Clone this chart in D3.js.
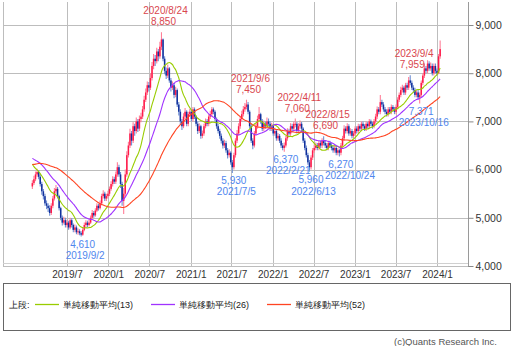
<!DOCTYPE html>
<html><head><meta charset="utf-8">
<script src="https://cdn.jsdelivr.net/npm/d3@7"></script>
<style>
html,body{margin:0;padding:0;background:#fff;}
svg{display:block;}
text{font-family:"Liberation Sans",Arial,sans-serif;}
</style></head>
<body>
<svg id="c" width="513" height="346"></svg>
<script>
// ---- DATA ----
const firstWeek = "2019-01-28";
// weekly closes (2019/1/28 ... 2024/1/8)
const closes = [
5720,5800,5900,5950,5850,5700,5550,5450,5300,5250,
5200,5100,5250,5400,5550,5600,5450,5200,5000,4900,
4950,4850,4900,4800,4950,4850,4750,4800,4700,4720,
4680,4650,4750,4850,4900,4850,4900,5000,5100,5050,
5150,5250,5200,5300,5450,5500,5400,5450,5500,5600,
5700,5800,5750,5900,6050,5900,5700,5350,5500,5900,
6300,6500,6750,6600,6900,6800,7000,6850,7050,7100,
7250,7450,7600,7750,7700,7900,8150,8300,8250,8450,
8350,8550,8700,8300,8050,7950,8100,7850,7700,7750,
7550,7650,7350,7200,7000,6900,7100,7200,6950,7150,
7200,7050,7250,7100,6950,6800,6900,6700,6750,6900,
7000,6950,7100,7150,7250,7200,7050,6900,6800,6700,
6600,6500,6550,6400,6300,6350,6150,6050,6300,6600,
6750,6900,7050,7150,7250,7300,7350,7200,6900,6600,
6500,6750,6900,7050,7150,7000,6850,6950,6900,7000,
6950,6850,6900,6750,6800,6650,6700,6600,6500,6450,
6500,6650,6800,6750,6900,6850,6950,6950,6800,6900,
6950,6850,6600,6450,6300,6150,6050,6250,6400,6450,
6500,6450,6550,6500,6600,6550,6500,6450,6550,6500,
6450,6400,6450,6350,6400,6350,6500,6650,6850,6800,
6900,6750,6800,6700,6750,6850,6800,6900,6850,6950,
6900,6850,6950,6900,7000,6950,6900,7000,7100,7250,
7200,7400,7350,7250,7200,7150,7250,7200,7300,7250,
7200,7300,7450,7550,7650,7700,7600,7750,7700,7850,
7800,7700,7650,7550,7600,7500,7550,7800,7950,8100,
8050,8200,8100,8150,8000,8150,8050,8000,8350,8500
];
const highs = [
5780,5870,5960,6020,5990,5900,5750,5600,5500,5360,
5300,5260,5300,5450,5620,5680,5640,5480,5230,5050,
5020,5000,4960,4940,5000,4990,4880,4860,4840,4780,
4760,4720,4790,4900,4950,4940,4960,5050,5160,5140,
5200,5300,5290,5360,5500,5570,5540,5500,5560,5650,
5760,5860,5850,5960,6150,6100,5950,5750,5620,6000,
6380,6580,6850,6800,6980,6950,7080,7050,7120,7180,
7320,7530,7680,7830,7820,8000,8230,8400,8380,8530,
8500,8650,8850,8720,8350,8120,8180,8130,7900,7830,
7800,7720,7680,7400,7250,7050,7170,7280,7230,7200,
7260,7240,7300,7290,7130,7000,6960,6930,6810,6950,
7060,7050,7150,7220,7300,7290,7230,7080,6950,6850,
6750,6650,6620,6600,6450,6420,6380,6200,6350,6650,
6820,6960,7100,7220,7320,7380,7450,7400,7230,6950,
6650,6800,6960,7120,7300,7180,7050,7020,7000,7080,
7060,7000,6970,6940,6870,6840,6760,6740,6650,6550,
6560,6700,6860,6850,6960,6950,7000,7060,6990,6960,
7020,6990,6880,6650,6500,6350,6200,6300,6450,6520,
6560,6550,6600,6600,6650,6690,6600,6550,6600,6600,
6550,6500,6500,6480,6450,6430,6550,6700,6920,6900,
6960,6940,6860,6840,6800,6900,6900,6950,6940,7000,
7000,6940,7000,6990,7050,7040,6990,7050,7160,7310,
7300,7550,7450,7400,7300,7250,7300,7300,7350,7340,
7300,7350,7500,7600,7720,7760,7740,7800,7800,7920,
7959,7850,7750,7700,7650,7650,7600,7850,8000,8200,
8150,8270,8250,8220,8200,8200,8200,8100,8400,8680
];
const lows = [
5600,5680,5760,5850,5800,5650,5480,5380,5250,5180,
5120,5040,5060,5200,5360,5500,5400,5150,4950,4840,
4860,4800,4800,4750,4760,4800,4700,4700,4660,4650,
4640,4610,4630,4720,4800,4800,4820,4870,4960,5000,
5020,5120,5150,5170,5260,5400,5350,5350,5400,5450,
5560,5650,5700,5700,5850,5850,5620,5250,5080,5450,
5850,6250,6450,6500,6550,6700,6750,6780,6800,6980,
7050,7200,7400,7550,7620,7650,7850,8080,8150,8200,
8250,8300,8480,8250,7980,7880,7900,7800,7620,7650,
7480,7500,7300,7120,6930,6820,6860,7050,6900,6900,
7100,7000,7000,7050,6900,6740,6760,6640,6650,6700,
6860,6900,6900,7050,7100,7150,7000,6850,6750,6640,
6540,6440,6450,6350,6230,6250,6100,5930,6000,6250,
6550,6700,6850,7000,7100,7200,7250,7150,6850,6550,
6420,6460,6700,6850,7000,6950,6800,6800,6850,6860,
6900,6800,6800,6700,6700,6600,6600,6550,6450,6400,
6370,6460,6600,6700,6700,6800,6800,6880,6750,6760,
6850,6800,6550,6400,6250,6100,5960,6000,6200,6350,
6400,6400,6400,6450,6450,6500,6450,6400,6400,6450,
6400,6350,6350,6300,6300,6270,6300,6450,6600,6750,
6750,6700,6700,6650,6650,6700,6750,6750,6800,6800,
6850,6800,6800,6850,6850,6900,6850,6860,6950,7050,
7150,7150,7300,7200,7150,7100,7100,7150,7150,7200,
7150,7150,7250,7400,7500,7600,7550,7550,7650,7650,
7750,7650,7600,7500,7500,7450,7371,7500,7750,7900,
8000,8000,8050,8050,7950,7950,8000,7950,7980,8300
];
const firstOpen = 5650;
// 2018 weekly closes preceding the chart (used only for the moving averages)
const priorCloses = [
5700,5650,5600,5550,5600,5700,5650,5600,5700,5800,5850,5900,
6000,6100,6050,6150,6200,6250,6200,6300,6350,6300,6250,6400,6350,6300,
6350,6400,6450,6400,6350,6300,6400,6350,6300,6250,6300,6350,6400,
6450,6400,6350,6300,6250,6200,6100,6050,6000,5950,5900,5800
];
const maPeriods = [13, 26, 52];
const maColors = ["#99cc00", "#a033ff", "#ff4422"];
const maNames = ["単純移動平均(13)", "単純移動平均(26)", "単純移動平均(52)"];
const yTicks = [4000, 5000, 6000, 7000, 8000, 9000];
const xTickDates = ["2019-07-01","2020-01-01","2020-07-01","2021-01-01","2021-07-01","2022-01-01","2022-07-01","2023-01-01","2023-07-01","2024-01-01"];
const xTickLabels = ["2019/7","2020/1","2020/7","2021/1","2021/7","2022/1","2022/7","2023/1","2023/7","2024/1"];
const highMarks = [
  {date:"2020-08-24", label:"2020/8/24", value:8850},
  {date:"2021-09-06", label:"2021/9/6", value:7450},
  {date:"2022-04-11", label:"2022/4/11", value:7060},
  {date:"2022-08-15", label:"2022/8/15", value:6690},
  {date:"2023-09-04", label:"2023/9/4", value:7959}
];
const lowMarks = [
  {date:"2019-09-02", label:"2019/9/2", value:4610},
  {date:"2021-07-05", label:"2021/7/5", value:5930},
  {date:"2022-02-21", label:"2022/2/21", value:6370},
  {date:"2022-06-13", label:"2022/6/13", value:5960},
  {date:"2022-10-24", label:"2022/10/24", value:6270},
  {date:"2023-10-16", label:"2023/10/16", value:7371}
];

// ---- CHART ----
const svg = d3.select("#c");
const parse = d3.utcParse("%Y-%m-%d");
const t0 = parse(firstWeek);
const dates = closes.map((_, i) => d3.utcWeek.offset(t0, i));
const opens = closes.map((c, i) => i === 0 ? firstOpen : closes[i - 1]);

const plotL = 3, plotR = 468, plotT = 2, plotB = 267;
const x = d3.scaleUtc().domain([parse("2019-07-01"), parse("2024-01-01")]).range([67, 437]);
const y = d3.scaleLinear().domain([4000, 9000]).range([266, 25]);

const g = svg.append("g");
// grid
g.selectAll(".hg").data(yTicks).join("line")
  .attr("x1", plotL).attr("x2", plotR)
  .attr("y1", d => Math.round(y(d)) + 0.5).attr("y2", d => Math.round(y(d)) + 0.5)
  .attr("stroke", "#bdbdbd").attr("stroke-width", 1);
g.selectAll(".vg").data(xTickDates).join("line")
  .attr("x1", d => Math.round(x(parse(d))) + 0.5).attr("x2", d => Math.round(x(parse(d))) + 0.5)
  .attr("y1", plotT).attr("y2", plotB)
  .attr("stroke", "#bdbdbd").attr("stroke-width", 1);
// frame
g.append("line").attr("x1", plotL + 0.5).attr("x2", plotL + 0.5).attr("y1", plotT).attr("y2", plotB).attr("stroke", "#bdbdbd");
g.append("line").attr("x1", plotL).attr("x2", plotR).attr("y1", 263.5).attr("y2", 263.5).attr("stroke", "#d0d0d0");
g.append("line").attr("x1", plotR + 0.5).attr("x2", plotR + 0.5).attr("y1", plotT).attr("y2", plotB).attr("stroke", "#9a9a9a");

// right axis
const yAxis = d3.axisRight(y).tickValues(yTicks).tickSize(5).tickPadding(2).tickFormat(d3.format(","));
const ya = svg.append("g").attr("transform", `translate(${plotR + 0.5},0)`).call(yAxis);
ya.select(".domain").remove();
ya.selectAll("line").attr("stroke", "#888");
ya.selectAll("text").attr("fill", "#333").attr("font-size", 10.5).attr("font-family", "Liberation Sans, Arial, sans-serif");

// bottom axis labels
const xa = svg.append("g").attr("transform", `translate(0,${plotB})`)
  .call(d3.axisBottom(x).tickValues(xTickDates.map(parse)).tickSize(0).tickPadding(4)
    .tickFormat((d, i) => xTickLabels[i]));
xa.select(".domain").remove();
xa.selectAll("text").attr("fill", "#333").attr("font-size", 10).attr("font-family", "Liberation Sans, Arial, sans-serif");

// candles
const cg = svg.append("g");
const bw = 1.5;
cg.selectAll(".wick").data(closes).join("line")
  .attr("x1", (d, i) => x(dates[i])).attr("x2", (d, i) => x(dates[i]))
  .attr("y1", (d, i) => y(highs[i])).attr("y2", (d, i) => y(lows[i]))
  .attr("stroke", (d, i) => d >= opens[i] ? "#ff7f98" : "#6f8fd4").attr("stroke-width", 1.1);
cg.selectAll(".body").data(closes).join("rect")
  .attr("x", (d, i) => x(dates[i]) - bw / 2)
  .attr("width", bw)
  .attr("y", (d, i) => y(Math.max(d, opens[i])))
  .attr("height", (d, i) => Math.max(1, Math.abs(y(d) - y(opens[i]))))
  .attr("fill", (d, i) => d >= opens[i] ? "#ff1a4a" : "#11309c");

// moving averages
const full = priorCloses.concat(closes);
const off = priorCloses.length;
maPeriods.forEach((n, k) => {
  const vals = closes.map((_, i) => d3.mean(full.slice(off + i - n + 1, off + i + 1)));
  const line = d3.line().x((d, i) => x(dates[i])).y(d => y(d)).curve(d3.curveMonotoneX);
  svg.append("path").datum(vals).attr("d", line)
    .attr("fill", "none").attr("stroke", maColors[k]).attr("stroke-width", 1.1);
});

// annotations
const idx = ds => d3.bisector(d => d).left(dates, parse(ds));
const ag = svg.append("g").attr("font-size", 10).attr("text-anchor", "middle");
highMarks.forEach(m => {
  const cx = x(dates[idx(m.date)]);
  ag.append("text").attr("x", cx + 4).attr("y", y(m.value) - 18).attr("fill", "#d9464e").text(m.label);
  ag.append("text").attr("x", cx + 2).attr("y", y(m.value) - 7).attr("fill", "#d9464e").text(d3.format(",")(m.value));
});
const lowTexts = [];
let prev = null;
lowMarks.forEach(m => {
  const cx = x(dates[idx(m.date)]);
  let vy = y(m.value) + 11;
  if (prev && Math.abs(cx - prev.cx) < 45 && Math.abs(vy - prev.dy) < 9) vy = prev.dy + 9;
  const dy = vy + 11.5;
  lowTexts.push(ag.append("text").attr("x", cx + 1.5).attr("y", vy).attr("fill", "#4f86ee").text(d3.format(",")(m.value)).node());
  lowTexts.push(ag.append("text").attr("x", cx + 4).attr("y", dy).attr("fill", "#4f86ee").text(m.label).node());
  prev = {cx, dy};
});
// push a low label rightwards if it still touches an earlier low label
for (let a = 0; a < lowTexts.length; a++) {
  for (let b = 0; b < a; b++) {
    const A = lowTexts[a].getBBox(), B = lowTexts[b].getBBox();
    const vOv = Math.min(A.y + A.height - 2, B.y + B.height - 2) - Math.max(A.y + 2, B.y + 2);
    const hOv = Math.min(A.x + A.width, B.x + B.width) - Math.max(A.x, B.x);
    if (vOv > 0 && hOv > 0 && A.x > B.x) {
      lowTexts[a].setAttribute("x", +lowTexts[a].getAttribute("x") + hOv + 1);
    }
  }
}

// legend
const lg = svg.append("g");
lg.append("rect").attr("x", 3.5).attr("y", 283.5).attr("width", 507).attr("height", 47)
  .attr("fill", "#fff").attr("stroke", "#666").attr("stroke-width", 1);
lg.append("text").attr("x", 9).attr("y", 307.5).attr("font-size", 9)
  .attr("font-family", "Noto Sans CJK JP, sans-serif").attr("fill", "#222").text("上段:");
const legX = [35, 151, 267];
maNames.forEach((nm, k) => {
  lg.append("line").attr("x1", legX[k]).attr("x2", legX[k] + 24).attr("y1", 304.5).attr("y2", 304.5)
    .attr("stroke", maColors[k]).attr("stroke-width", 1.3);
  lg.append("text").attr("x", legX[k] + 28).attr("y", 307.5).attr("font-size", 9)
    .attr("font-family", "Noto Sans CJK JP, sans-serif").attr("fill", "#222").text(nm);
});
svg.append("text").attr("x", 497).attr("y", 345).attr("text-anchor", "end").attr("font-size", 9.5)
  .attr("fill", "#555").text("(c)Quants Research Inc.");
</script>
</body></html>
